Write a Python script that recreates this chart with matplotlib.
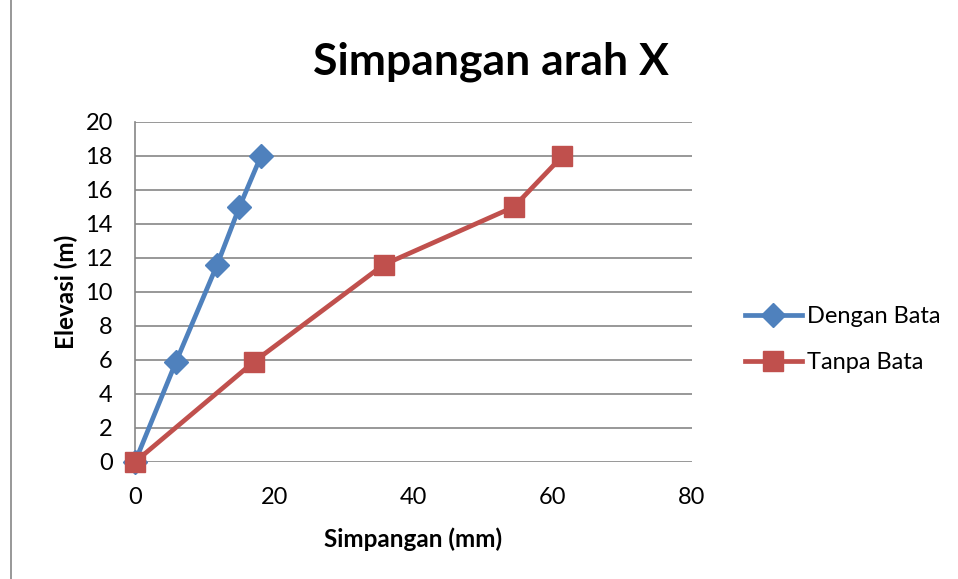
import matplotlib
matplotlib.use("Agg")
import matplotlib.pyplot as plt
from matplotlib.lines import Line2D

plt.rcParams['font.family'] = ['Lato', 'DejaVu Sans']

# Storey elevations (m) and lateral drift in X direction (mm)
elevasi = [0, 5.9, 11.6, 15, 18]
dengan_bata = [0, 5.9, 11.8, 15.0, 18.1]
tanpa_bata = [0, 17.1, 35.7, 54.4, 61.4]

x_ticks = [0, 20, 40, 60, 80]
y_ticks = [0, 2, 4, 6, 8, 10, 12, 14, 16, 18, 20]

blue = '#4F81BD'
red = '#C0504D'

fig = plt.figure(figsize=(9.58, 5.79), dpi=100)
ax = fig.add_axes([0.1409, 0.2021, 0.5814, 0.5872])

ax.plot(dengan_bata, elevasi, color=blue, lw=3.4, marker='D', ms=12,
        mfc=blue, mec=blue, label='Dengan Bata', zorder=3, clip_on=False)
ax.plot(tanpa_bata, elevasi, color=red, lw=3.4, marker='s', ms=14,
        mfc=red, mec=red, label='Tanpa Bata', zorder=3, clip_on=False)

ax.set_xlim(0, 80)
ax.set_ylim(0, 20)
ax.set_xticks(x_ticks)
ax.set_yticks(y_ticks)
ax.yaxis.grid(True, color='#868686', lw=1.2)
ax.set_axisbelow(True)
for s in ['top', 'right', 'bottom']:
    ax.spines[s].set_visible(False)
ax.spines['left'].set_color('#868686')
ax.spines['left'].set_linewidth(1.2)
ax.tick_params(axis='both', length=0, labelsize=17, colors='black')
ax.tick_params(axis='x', pad=18)
ax.tick_params(axis='y', pad=16)

ax.set_xlabel('Simpangan (mm)', fontsize=17.5, fontweight='bold', labelpad=14)
ax.set_ylabel('Elevasi (m)', fontsize=17.5, fontweight='bold', labelpad=5)
fig.text(0.512, 0.893, 'Simpangan arah X', fontsize=32, fontweight='bold',
         ha='center', va='center')

leg = ax.legend(loc='center left', bbox_to_anchor=(1.095, 0.36), frameon=False,
                fontsize=17, handlelength=2.4, labelspacing=1.05,
                handletextpad=0.25, borderpad=0, borderaxespad=0)

# chart area frame on the left
fig.add_artist(Line2D([0.011, 0.011], [0.0, 1.0], color='#868686', lw=1.2))

fig.savefig('out.png', dpi=100)
